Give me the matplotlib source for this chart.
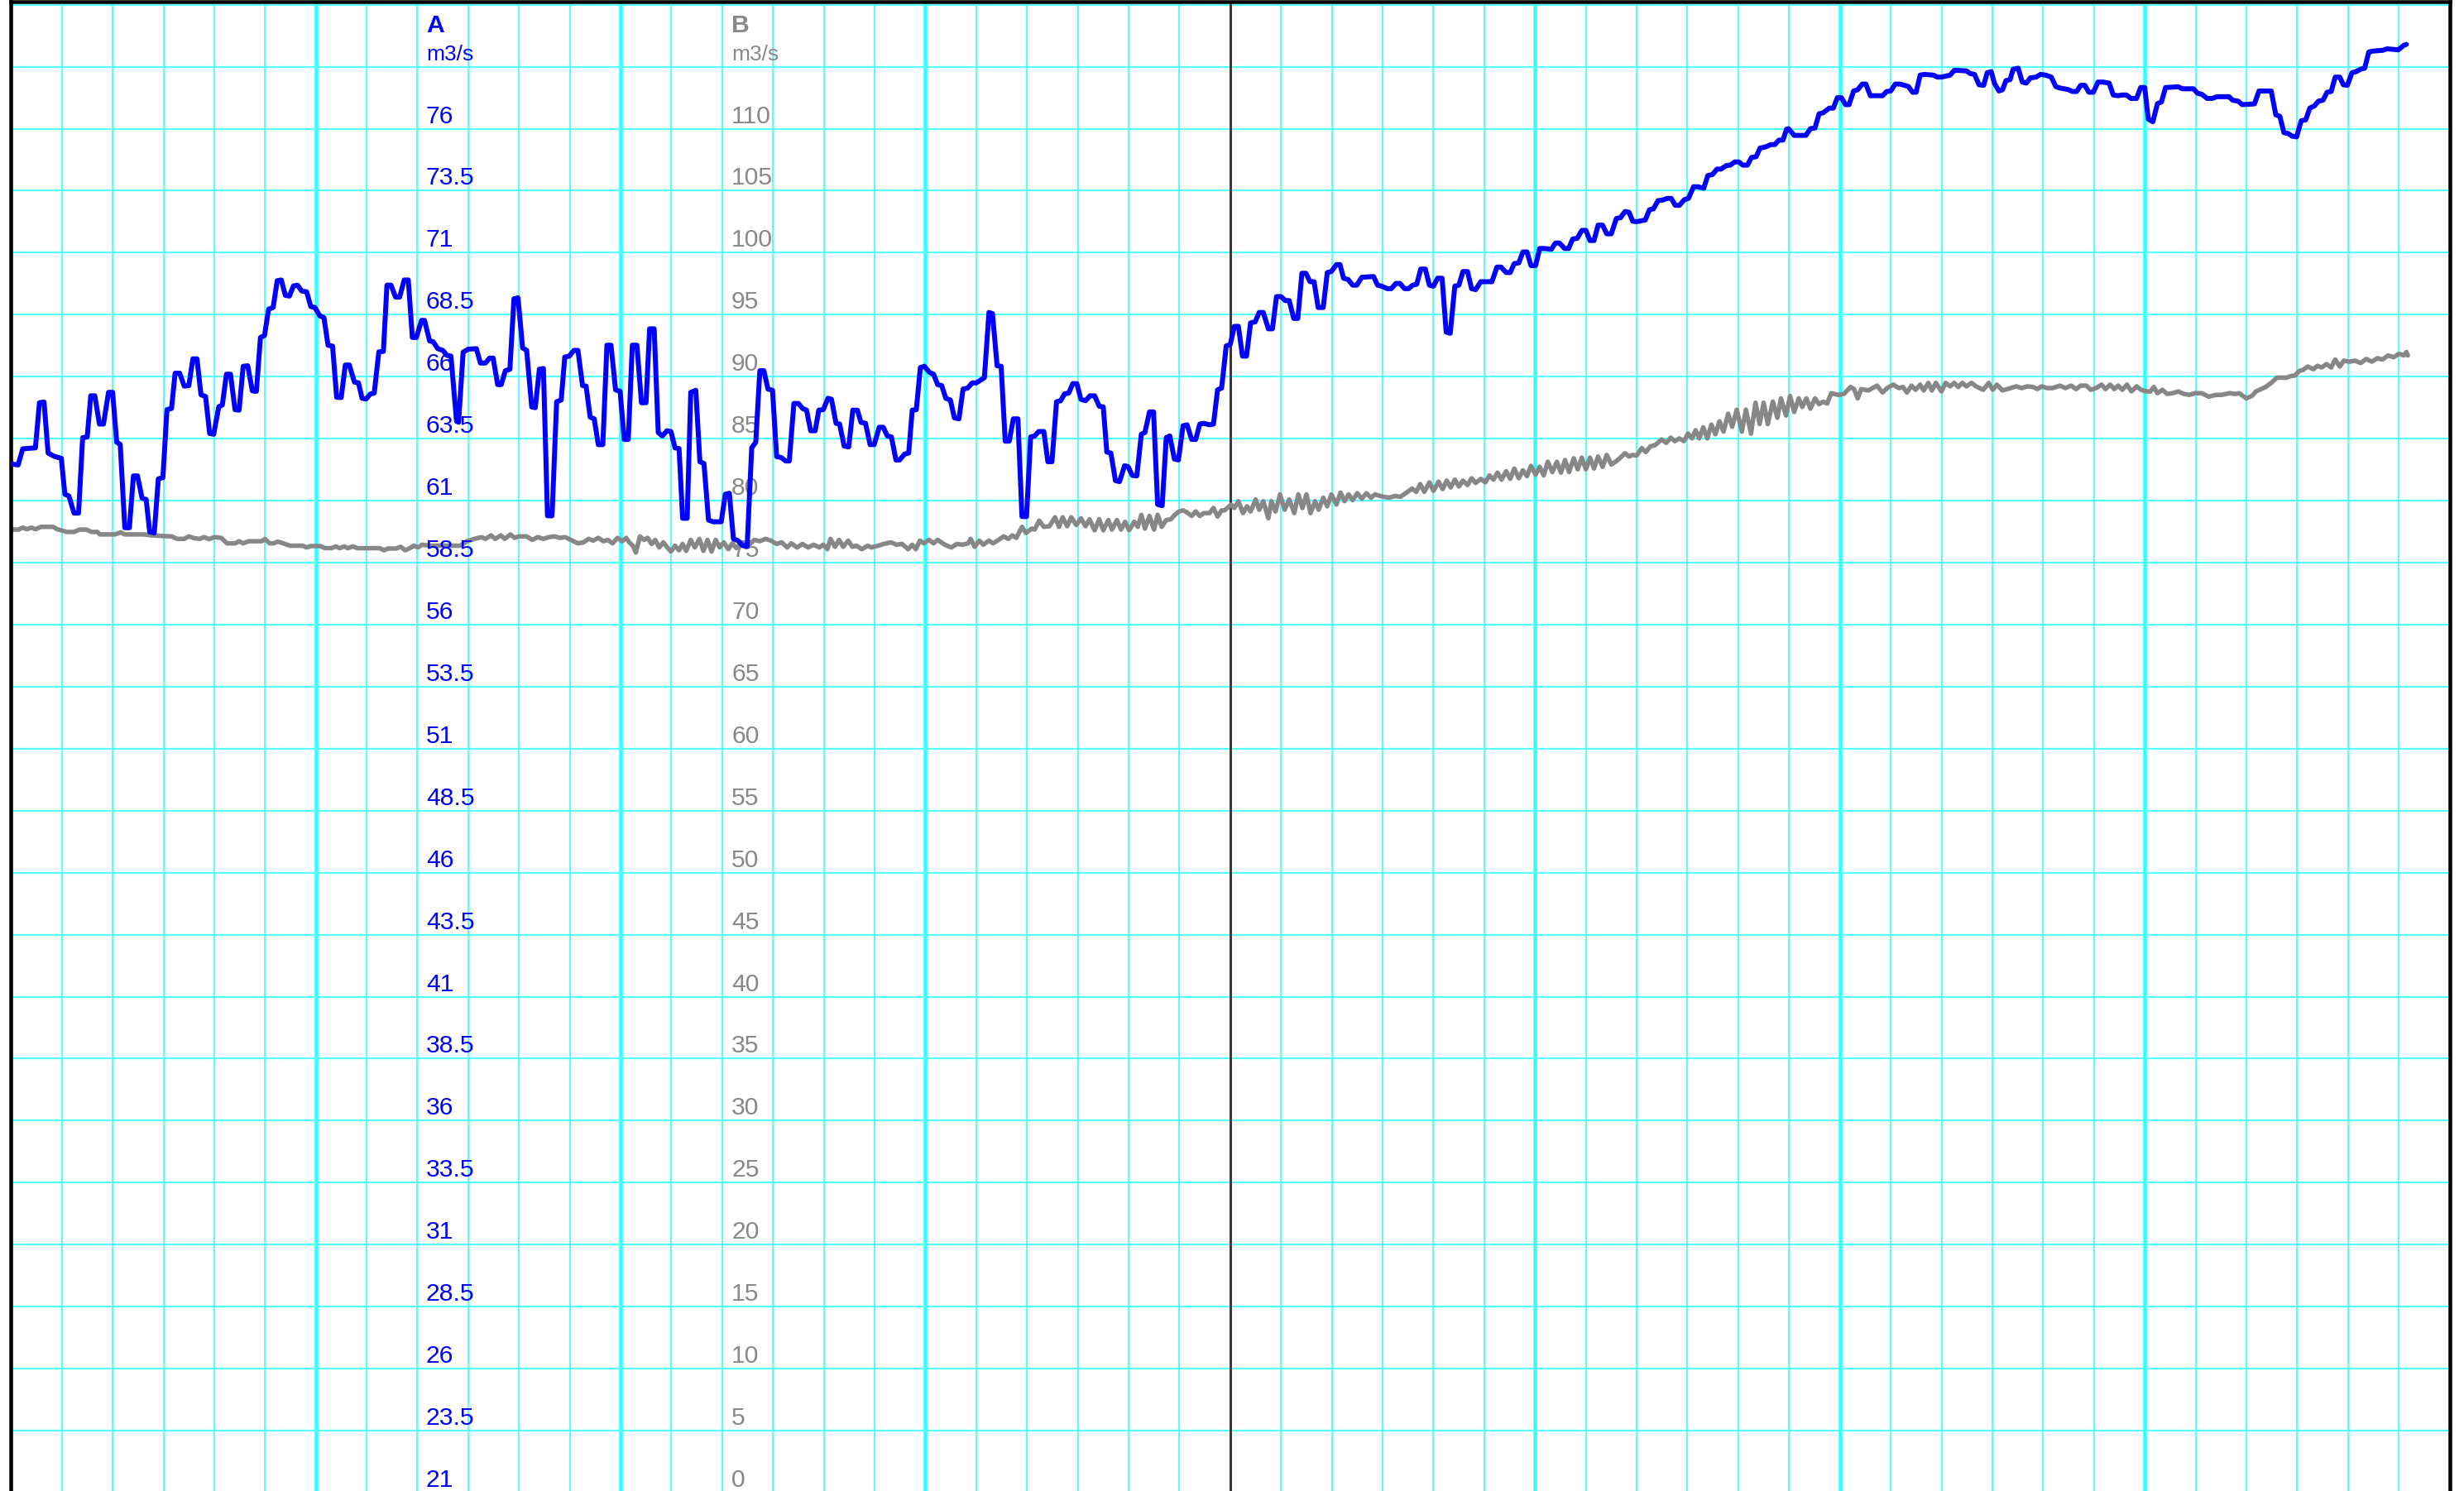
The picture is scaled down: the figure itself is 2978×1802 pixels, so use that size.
import matplotlib
matplotlib.use("Agg")
import matplotlib.pyplot as plt
from matplotlib import transforms

# ---------------- data ----------------
# time in hours from the left edge of the chart (48 h window)
times_a = [0.02,0.14,0.23,0.48,0.56,0.65,0.73,0.86,0.99,1.06,1.14,1.24,1.33,1.41,1.50,1.57,1.65,1.74,1.82,1.92,2.00,2.08,2.15,2.24,2.33,2.41,2.49,2.58,2.66,2.73,2.82,2.90,2.99,3.07,3.16,3.23,3.32,3.41,3.50,3.58,3.66,3.74,3.83,3.91,3.99,4.09,4.16,4.24,4.32,4.41,4.49,4.57,4.66,4.75,4.83,4.91,4.99,5.07,5.16,5.24,5.32,5.40,5.48,5.56,5.64,5.72,5.82,5.90,5.98,6.08,6.16,6.24,6.33,6.41,6.50,6.58,6.66,6.76,6.84,6.91,6.99,7.07,7.15,7.24,7.33,7.40,7.48,7.57,7.65,7.74,7.82,7.90,
           7.98,8.08,8.14,8.24,8.31,8.40,8.50,8.58,8.66,8.77,8.81,8.90,9.00,9.16,9.24,9.34,9.42,9.49,9.58,9.65,9.73,9.82,9.90,9.98,10.07,10.15,10.25,10.32,10.40,10.48,10.56,10.65,10.74,10.83,10.90,10.99,11.08,11.16,11.25,11.32,11.40,11.48,11.56,11.65,11.73,11.81,11.90,11.99,12.07,12.15,12.23,12.32,12.41,12.50,12.57,12.66,12.74,12.82,12.91,12.99,13.07,13.15,13.22,13.31,13.38,13.48,13.56,13.64,13.73,13.82,13.98,14.06,14.14,14.22,14.31,14.40,14.49,14.58,14.66,14.74,14.82,14.90,14.99,15.07,15.16,15.25,15.32,15.41,15.50,15.58,15.66,15.74,15.83,
           15.90,15.99,16.08,16.15,16.24,16.31,16.40,16.49,16.57,16.66,16.73,16.82,16.91,16.99,17.09,17.17,17.25,17.33,17.42,17.49,17.59,17.67,17.74,17.82,17.90,17.98,18.08,18.16,18.24,18.32,18.40,18.49,18.57,18.66,18.74,18.83,18.92,19.00,19.16,19.25,19.32,19.41,19.49,19.57,19.65,19.73,19.82,19.90,19.99,20.07,20.15,20.23,20.33,20.41,20.49,20.58,20.66,20.74,20.82,20.90,20.98,21.06,21.15,21.24,21.33,21.42,21.50,21.57,21.65,21.74,21.82,21.92,21.99,22.07,22.16,22.25,22.32,22.41,22.49,22.57,22.66,22.74,22.81,22.90,22.98,23.07,23.15,23.24,23.32,23.40,23.48,23.59,23.67,23.75,23.83,
           23.92,24.00,24.08,24.16,24.24,24.32,24.40,24.49,24.57,24.65,24.75,24.83,24.91,25.00,25.08,25.16,25.25,25.33,25.41,25.49,25.57,25.65,25.73,25.83,25.91,25.99,26.09,26.16,26.23,26.32,26.41,26.49,26.59,26.82,26.90,26.98,27.09,27.17,27.26,27.34,27.43,27.51,27.59,27.67,27.75,27.84,27.92,28.00,28.08,28.17,28.25,28.33,28.42,28.50,28.58,28.67,28.75,28.83,28.93,29.15,29.25,29.33,29.43,29.51,29.59,29.68,29.76,29.84,29.92,30.01,30.09,30.19,30.32,30.40,30.48,30.58,30.66,30.74,30.83,30.92,31.00,31.08,31.16,31.24,31.33,31.41,31.50,31.60,31.68,31.77,31.85,
           31.92,32.00,32.17,32.25,32.33,32.42,32.51,32.60,32.68,32.76,32.84,32.94,33.02,33.12,33.20,33.32,33.40,33.49,33.58,33.66,33.76,33.84,33.93,34.01,34.09,34.18,34.26,34.35,34.43,34.53,34.64,34.72,34.80,34.88,34.95,34.99,35.10,35.33,35.42,35.51,35.59,35.67,35.79,35.87,35.95,36.03,36.11,36.18,36.27,36.35,36.44,36.51,36.60,36.84,36.92,37.00,37.09,37.18,37.27,37.35,37.43,37.50,37.58,37.66,37.84,37.92,38.00,38.08,38.17,38.25,38.33,38.49,38.57,38.65,38.74,38.83,38.90,38.98,39.04,39.13,39.20,39.27,39.35,39.41,39.51,39.59,39.67,
           39.75,39.86,39.95,40.05,40.16,40.25,40.33,40.49,40.58,40.66,40.74,40.82,40.90,40.99,41.08,41.18,41.30,41.38,41.47,41.56,41.64,41.73,41.84,41.92,42.00,42.07,42.16,42.25,42.33,42.41,42.66,42.74,42.96,43.04,43.12,43.23,43.33,43.42,43.66,43.73,43.84,43.92,44.16,44.25,44.49,44.58,44.66,44.74,44.82,44.90,44.99,45.08,45.17,45.25,45.34,45.42,45.51,45.59,45.67,45.75,45.84,45.91,45.99,46.08,46.16,46.25,46.33,46.41,46.49,46.68,46.77,46.99,47.10,47.15]
values_a = [62.48,62.44,63.09,63.13,64.95,64.98,62.92,62.78,62.71,61.26,61.19,60.50,60.50,63.54,63.57,65.23,65.23,64.09,64.09,65.37,65.37,63.36,63.27,59.91,59.91,62.0,62.0,61.1,61.05,59.74,59.7,61.88,61.93,64.67,64.72,66.14,66.14,65.62,65.64,66.72,66.72,65.27,65.2,63.71,63.68,64.79,64.86,66.1,66.1,64.67,64.65,66.42,66.44,65.43,65.41,67.58,67.66,68.72,68.79,69.87,69.9,69.28,69.25,69.66,69.69,69.46,69.42,68.83,68.79,68.45,68.38,67.27,67.23,65.17,65.16,66.47,66.47,65.78,65.75,65.13,65.1,65.3,65.34,67.0,67.02,69.69,69.69,69.21,69.21,69.9,69.9,67.58,
            67.58,68.27,68.27,67.44,67.41,67.13,67.06,66.86,66.83,64.2,64.16,66.99,67.11,67.13,66.55,66.55,66.75,66.75,65.68,65.68,66.24,66.3,69.14,69.18,67.16,67.06,64.78,64.75,66.3,66.33,60.39,60.39,64.99,65.06,66.79,66.83,67.06,67.06,65.64,65.62,64.37,64.3,63.26,63.26,67.27,67.27,65.47,65.41,63.47,63.47,67.27,67.27,64.95,64.95,67.93,67.93,63.75,63.61,63.82,63.79,63.13,63.1,60.29,60.29,65.37,65.45,62.57,62.5,60.22,60.15,60.15,61.26,61.3,59.46,59.39,59.19,59.16,63.13,63.36,66.24,66.24,65.5,65.45,62.78,62.74,62.6,62.6,64.92,64.92,64.72,64.65,63.82,63.82,
            64.65,64.67,65.13,65.09,64.12,64.09,63.2,63.17,64.65,64.65,64.16,64.12,63.26,63.26,63.96,63.96,63.61,63.57,62.64,62.64,62.88,62.92,64.65,64.67,66.37,66.42,66.17,66.1,65.68,65.64,65.13,65.06,64.34,64.3,65.5,65.54,65.75,65.75,65.96,68.59,68.54,66.44,66.42,63.4,63.4,64.3,64.3,60.36,60.36,63.57,63.61,63.79,63.79,62.57,62.57,64.99,65.03,65.31,65.34,65.72,65.72,65.09,65.03,65.23,65.23,64.81,64.78,62.96,62.92,61.81,61.77,62.41,62.37,62.02,62.0,63.68,63.75,64.58,64.58,60.85,60.8,63.54,63.61,62.68,62.64,64.02,64.06,63.47,63.47,64.09,64.12,64.06,64.09,65.47,65.54,
            67.24,67.3,68.03,68.03,66.83,66.83,68.17,68.21,68.59,68.59,67.93,67.93,69.23,69.23,69.07,69.07,68.35,68.35,70.17,70.17,69.83,69.83,68.79,68.79,70.2,70.24,70.52,70.52,69.97,69.92,69.69,69.69,70.01,70.04,69.69,69.65,69.55,69.55,69.76,69.76,69.55,69.55,69.69,69.73,70.34,70.34,69.69,69.65,69.97,69.97,67.8,67.75,69.65,69.69,70.24,70.24,69.55,69.51,69.83,69.83,70.42,70.42,70.2,70.2,70.56,70.59,71.03,71.03,70.48,70.48,71.17,71.17,71.14,71.39,71.39,71.17,71.17,71.55,71.58,71.9,71.9,71.49,71.49,72.11,72.11,71.76,71.76,72.38,72.41,72.66,72.63,
            72.27,72.25,72.32,72.73,72.77,73.1,73.12,73.19,73.19,72.91,72.91,73.14,73.19,73.66,73.66,73.6,74.11,74.15,74.37,74.37,74.51,74.53,74.66,74.66,74.53,74.53,74.84,74.87,75.22,75.26,75.36,75.36,75.54,75.54,75.98,76.0,75.73,75.73,76.0,76.03,76.6,76.64,76.83,76.83,77.25,77.25,76.97,76.97,77.52,77.57,77.8,77.8,77.33,77.33,77.5,77.52,77.8,77.8,77.75,77.7,77.47,77.47,78.16,78.19,78.16,78.08,78.08,78.12,78.16,78.35,78.35,78.33,78.22,78.19,77.77,77.75,78.26,78.3,77.84,77.52,77.57,77.94,77.98,78.4,78.44,77.88,77.84,
            78.05,78.08,78.19,78.16,78.08,77.7,77.64,77.58,77.5,77.5,77.75,77.75,77.47,77.47,77.88,77.88,77.84,77.36,77.33,77.36,77.36,77.22,77.22,77.66,77.66,76.39,76.28,77.01,77.08,77.66,77.69,77.61,77.61,77.43,77.39,77.22,77.22,77.29,77.29,77.15,77.11,76.97,77.0,77.52,77.52,76.56,76.5,75.84,75.81,75.7,75.67,76.32,76.36,76.83,76.92,77.11,77.15,77.47,77.5,78.08,78.08,77.77,77.75,78.26,78.3,78.4,78.44,79.09,79.13,79.16,79.22,79.18,79.36,79.4]

times_b = [0.02,0.15,0.23,0.31,0.40,0.48,0.59,0.83,0.91,1.10,1.24,1.35,1.48,1.59,1.70,1.75,2.05,2.16,2.24,2.62,2.76,3.16,3.27,3.41,3.50,3.60,3.71,3.80,3.90,4.00,4.14,4.25,4.41,4.49,4.57,4.68,4.93,5.00,5.09,5.17,5.25,5.36,5.49,5.74,5.82,5.90,6.09,6.18,6.31,6.39,6.47,6.56,6.63,6.73,6.82,7.26,7.34,7.42,7.58,7.67,7.76,7.85,
           7.93,8.01,8.09,8.25,8.85,8.96,9.12,9.26,9.34,9.45,9.53,9.64,9.72,9.83,9.91,9.99,10.15,10.26,10.37,10.48,10.59,10.70,10.80,10.91,11.02,11.16,11.27,11.37,11.46,11.56,11.66,11.75,11.84,11.94,12.03,12.11,12.17,12.24,12.30,12.38,12.46,12.53,12.61,12.68,12.76,12.84,12.92,12.99,13.07,13.15,13.22,13.29,13.38,13.46,13.55,13.63,13.71,13.79,13.87,13.95,14.03,14.12,14.20,14.28,14.38,14.47,14.55,14.63,14.74,14.85,14.96,15.07,15.17,15.28,15.36,15.47,15.58,15.69,15.80,
           15.91,15.99,16.07,16.13,16.22,16.30,16.38,16.48,16.56,16.64,16.75,16.86,16.94,17.07,17.18,17.32,17.43,17.54,17.66,17.74,17.81,17.89,17.97,18.07,18.16,18.24,18.38,18.51,18.62,18.73,18.84,18.89,18.97,19.06,19.14,19.25,19.33,19.44,19.54,19.63,19.71,19.79,19.90,19.98,20.09,20.15,20.24,20.33,20.44,20.55,20.63,20.70,20.79,20.87,20.97,21.06,21.15,21.23,21.33,21.42,21.50,21.60,21.67,21.77,21.85,21.93,22.01,22.11,22.18,22.25,22.32,22.41,22.50,22.57,22.65,22.74,22.83,22.91,22.99,23.07,23.15,23.24,23.32,23.40,23.48,23.59,23.67,23.75,23.83,
           23.89,23.94,24.02,24.08,24.16,24.25,24.33,24.40,24.50,24.57,24.65,24.75,24.81,24.89,24.98,25.07,25.16,25.26,25.34,25.42,25.50,25.58,25.67,25.74,25.83,25.91,25.99,26.09,26.17,26.25,26.33,26.41,26.50,26.59,26.68,26.77,26.85,26.95,27.12,27.25,27.35,27.47,27.58,27.66,27.74,27.82,27.92,28.00,28.10,28.18,28.26,28.34,28.42,28.50,28.58,28.67,28.75,28.83,28.93,29.02,29.10,29.18,29.26,29.34,29.43,29.51,29.59,29.68,29.76,29.84,29.92,30.01,30.09,30.17,30.25,30.34,30.43,30.51,30.59,30.67,30.76,30.84,30.92,31.00,31.08,31.16,31.24,31.33,31.41,31.50,31.60,31.68,31.77,31.85,
           31.92,32.00,32.10,32.18,32.27,32.36,32.49,32.58,32.67,32.75,32.84,32.93,33.01,33.09,33.16,33.23,33.31,33.39,33.47,33.55,33.63,33.71,33.80,33.88,33.97,34.07,34.15,34.25,34.34,34.42,34.50,34.58,34.68,34.77,34.84,34.94,35.02,35.10,35.19,35.26,35.34,35.42,35.51,35.59,35.67,35.75,35.83,35.97,36.08,36.21,36.28,36.35,36.42,36.56,36.73,36.84,36.93,37.05,37.16,37.24,37.32,37.41,37.49,37.58,37.65,37.74,37.81,37.89,38.00,38.08,38.17,38.25,38.33,38.41,38.49,38.59,38.68,38.82,38.93,39.01,39.09,39.20,39.36,39.47,39.58,39.69,39.80,
           39.89,39.97,40.08,40.19,40.33,40.44,40.55,40.65,40.74,40.85,40.94,41.04,41.15,41.23,41.32,41.40,41.48,41.56,41.65,41.74,41.84,41.93,42.03,42.11,42.18,42.25,42.35,42.44,42.55,42.66,42.77,42.88,42.99,43.12,43.26,43.40,43.51,43.67,43.78,43.86,44.00,44.11,44.19,44.38,44.49,44.60,44.79,44.88,44.96,45.04,45.12,45.21,45.32,45.40,45.48,45.58,45.67,45.75,45.84,45.92,46.03,46.14,46.25,46.36,46.47,46.58,46.68,46.79,46.90,47.01,47.10,47.15,47.18]
values_b = [77.67,77.67,77.83,77.7,77.83,77.7,77.89,77.89,77.7,77.48,77.48,77.67,77.67,77.48,77.48,77.28,77.28,77.45,77.28,77.28,77.2,77.12,76.92,76.92,77.12,76.98,76.92,77.06,76.9,77.06,77.0,76.56,76.56,76.73,76.56,76.73,76.73,76.9,76.56,76.56,76.7,76.56,76.37,76.37,76.23,76.34,76.34,76.17,76.17,76.31,76.17,76.31,76.17,76.31,76.17,76.17,76.0,76.14,76.14,76.28,76.0,76.17,
            76.37,76.23,76.45,76.37,76.37,76.7,76.92,77.06,76.92,77.2,76.92,77.2,76.92,77.28,77.0,77.12,77.12,76.84,77.06,76.92,77.06,77.12,77.0,77.06,76.84,76.56,76.64,76.92,76.78,77.0,76.73,76.84,76.56,77.0,76.73,77.0,76.64,76.37,75.82,77.12,76.84,77.0,76.51,76.84,76.23,76.64,76.23,75.9,76.37,76.0,76.51,75.95,76.84,76.23,76.92,75.95,76.84,75.9,76.84,76.23,76.64,76.09,76.56,76.17,76.64,76.23,76.51,76.84,76.73,76.92,76.78,76.51,76.64,76.23,76.56,76.23,76.51,76.23,76.45,
            76.23,76.45,76.09,76.92,76.28,76.84,76.28,76.78,76.28,76.37,76.09,76.37,76.23,76.37,76.51,76.64,76.45,76.51,76.09,76.45,76.09,76.78,76.56,76.84,76.56,76.84,76.45,76.23,76.51,76.45,76.56,76.92,76.28,76.78,76.45,76.78,76.56,76.84,77.12,76.92,77.2,77.0,77.89,77.39,77.75,77.67,78.39,77.89,77.94,78.66,77.89,78.66,77.94,78.66,78.03,78.58,77.94,78.5,77.61,78.5,77.61,78.44,77.67,78.44,77.67,78.3,77.61,78.3,77.89,78.86,77.75,78.77,77.67,78.86,77.89,78.44,78.5,78.86,79.13,79.22,79.05,78.77,79.13,78.77,79.0,79.0,79.41,78.72,79.22,
            79.22,79.41,79.69,79.41,79.96,79.0,79.55,79.13,80.1,79.27,79.96,78.58,79.96,79.13,80.51,79.27,80.1,79.0,80.51,79.41,80.51,79.0,79.96,79.27,80.24,79.55,80.51,79.69,80.65,79.96,80.51,80.04,80.6,80.16,80.6,80.24,80.51,80.38,80.24,80.38,80.32,80.65,80.98,80.71,81.34,80.71,81.48,80.79,81.54,80.93,81.62,81.07,81.7,81.15,81.62,81.26,81.81,81.43,81.76,81.48,82.04,81.7,82.26,81.7,82.37,81.76,82.59,81.81,82.45,81.98,82.81,82.09,82.73,82.04,83.14,82.31,83.14,82.26,83.28,82.31,83.42,82.53,83.47,82.53,83.47,82.59,83.56,82.73,83.69,82.92,83.19,83.47,83.83,83.56,
            83.69,83.64,84.25,83.92,84.38,84.47,84.94,84.66,85.08,84.8,85.02,84.8,85.41,85.02,85.69,85.02,85.91,85.02,86.13,85.36,86.4,85.57,87.01,85.96,87.34,85.57,87.34,85.41,87.9,86.18,87.9,86.18,87.99,86.68,88.25,86.87,88.45,87.15,88.25,87.56,88.25,87.42,88.25,87.78,87.98,87.84,88.67,88.53,88.61,89.17,89.0,88.25,89.0,88.89,89.28,88.72,89.08,89.36,89.08,89.17,88.72,89.28,88.94,89.36,88.89,89.5,88.89,89.5,88.81,89.5,89.22,89.5,89.17,89.5,89.22,89.5,89.22,88.94,89.5,88.94,89.36,88.89,89.08,89.22,89.08,89.22,89.17,
            89.0,89.22,89.08,89.08,89.28,89.08,89.28,89.0,89.28,89.28,88.94,89.08,89.36,89.0,89.36,89.0,89.28,88.94,89.36,88.81,89.22,88.94,88.81,88.81,89.17,88.67,88.94,88.61,88.67,88.81,88.61,88.53,88.67,88.67,88.39,88.53,88.53,88.67,88.61,88.67,88.25,88.45,88.81,89.17,89.5,89.92,89.92,90.05,90.1,90.46,90.55,90.82,90.6,90.88,90.74,91.02,90.74,91.38,90.82,91.29,91.21,91.29,91.1,91.43,91.21,91.49,91.38,91.71,91.57,91.85,91.71,91.99,91.71]

ticks_a = [21, 23.5, 26, 28.5, 31, 33.5, 36, 38.5, 41, 43.5, 46, 48.5, 51, 53.5, 56, 58.5,
           61, 63.5, 66, 68.5, 71, 73.5, 76]
ticks_b = [0, 5, 10, 15, 20, 25, 30, 35, 40, 45, 50, 55, 60, 65, 70, 75, 80, 85, 90, 95,
           100, 105, 110]
grid_b = list(range(0, 125, 5))
day_change = 24
hours_major = [h for h in range(0, 49, 6) if h != day_change]
hours_minor = [h for h in range(0, 49) if h % 6 != 0]
name_a, unit_a = "A", "m3/s"
name_b, unit_b = "B", "m3/s"

# ---------------- figure ----------------
W, H, DPI = 2978, 1802, 100
plt.rcParams['font.family'] = ['Liberation Sans', 'DejaVu Sans']
fig = plt.figure(figsize=(W / DPI, H / DPI), dpi=DPI)
fig.patch.set_facecolor('white')

px = 72.0 / DPI  # points per pixel
left_px, right_px, top_px, bottom_px = 13.3, 2960.5, 2.0, 1804.0
ax = fig.add_axes([left_px / W, (H - bottom_px) / H,
                   (right_px - left_px) / W, (bottom_px - top_px) / H])
b_top = (bottom_px - top_px) / 14.986
ax.set_xlim(0, 48)
ax.set_ylim(0, b_top)
ax2 = ax.twinx()
ax2.set_ylim(21, 21 + b_top / 2)

for a in (ax, ax2):
    a.tick_params(which='both', left=False, right=False, bottom=False, top=False,
                  labelleft=False, labelright=False, labelbottom=False)
    for s in a.spines.values():
        s.set_visible(False)

for side in ('left', 'right', 'top'):
    ax.spines[side].set_visible(True)
    ax.spines[side].set_linewidth(4.5 * px)
    ax.spines[side].set_color('black')
    ax.spines[side].set_zorder(5)

grid_col = '#55ffff'
ax.set_axisbelow(True)
ax.set_xticks(hours_major)
ax.set_xticks(hours_minor, minor=True)
ax.set_yticks(grid_b)
ax.xaxis.grid(True, which='major', color='#33ffff', linewidth=4.5 * px)
ax.xaxis.grid(True, which='minor', color=grid_col, linewidth=2 * px)
ax.yaxis.grid(True, which='major', color=grid_col, linewidth=2.2 * px)
ax.axvline(day_change, color='#383838', linewidth=3 * px, zorder=0.6)

# axis labels inside the plot
tr_a = transforms.offset_copy(ax2.get_yaxis_transform(), fig=fig, y=7, units='dots')
tr_b = transforms.offset_copy(ax.get_yaxis_transform(), fig=fig, y=7, units='dots')
xa = (515 - left_px) / (right_px - left_px)
xb = (884 - left_px) / (right_px - left_px)
fs = 21.7
for v in ticks_a:
    ax2.text(xa, v, f"{v:g}", transform=tr_a, ha='left', va='baseline', fontsize=fs,
             color='#0000ff', zorder=0.3)
for v in ticks_b:
    ax.text(xb, v, f"{v:g}", transform=tr_b, ha='left', va='baseline', fontsize=fs,
            color='#888888', zorder=0.3)

fig.text(515 / W, 1 - 39 / H, name_a, ha='left', va='baseline', fontsize=fs,
         fontweight='bold', color='#0000ff')
fig.text(515 / W, 1 - 73 / H, unit_a, ha='left', va='baseline', fontsize=19,
         color='#0000ff')
fig.text(884 / W, 1 - 39 / H, name_b, ha='left', va='baseline', fontsize=fs,
         fontweight='bold', color='#888888')
fig.text(884 / W, 1 - 73 / H, unit_b, ha='left', va='baseline', fontsize=19,
         color='#888888')

# data lines
ax.plot(times_b, values_b, color='#878787', linewidth=5.5 * px,
        solid_joinstyle='round', solid_capstyle='round', zorder=3)
ax2.plot(times_a, values_a, color='#0000ff', linewidth=6 * px,
         solid_joinstyle='round', solid_capstyle='round', zorder=3)

fig.savefig('out.png', dpi=DPI, facecolor='white')
